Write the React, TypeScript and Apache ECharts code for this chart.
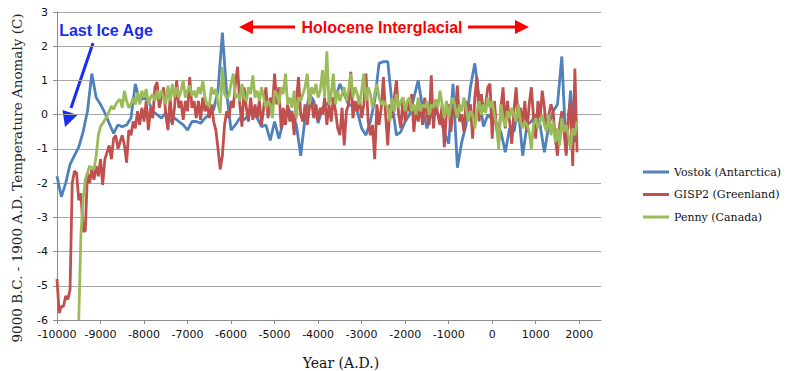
import React, { useEffect, useRef } from 'react';
import * as echarts from 'echarts';

// Tick labels of the year axis
const xTickValues = [-10000, -9000, -8000, -7000, -6000, -5000, -4000, -3000, -2000, -1000, 0, 1000, 2000];

const seriesNames = ['Vostok (Antarctica)', 'GISP2 (Greenland)', 'Penny (Canada)'];
const seriesColors = ['#4f81bd', '#c0504d', '#9bbb59'];

// Vostok (Antarctica): one value every 100 years from -10000
const vostokStart = -10000;
const vostokStep = 100;
const vostokValues = [
  -1.8, -2.4, -2.0, -1.45, -1.2, -0.95, -0.5, 0.1, 1.2, 0.5,
  0.3, 0.05, -0.25, -0.55, -0.3, -0.35, -0.3, -0.1, 0.9, 0.4,
  0.5, 0.4, 0.1, 0.0, -0.1, 0.05, -0.2, -0.1, -0.2, -0.3,
  -0.45, -0.2, -0.2, -0.25, -0.1, 0.0, 0.15, 0.7, 2.4, 0.6,
  -0.45, -0.3, -0.1, -0.15, 0.0, 0.05, -0.1, -0.35, -0.3, -0.75,
  -0.2, -0.7, -0.2, 0.2, 0.0, -0.3, -1.2, -0.1, 0.6, 0.4,
  -0.25, 0.2, 0.3, 0.45, 0.5, 0.9, 0.6, 0.3, 0.25, 0.1,
  -0.4, -0.6, -0.2, 0.4, 1.5, 1.55, 1.55, 0.3, -0.6, -0.5,
  -0.2, 0.0, 0.5, 1.0, 0.2, -0.4, 0.0, 0.15, -0.1, -0.5,
  -0.85, 0.9, -1.55, -0.8, -0.3, 0.8, 1.5, 0.5, -0.35, 0.0,
  -0.15, -0.25, -0.5, -1.1, -0.4, -0.5, 0.2, -1.2, -0.3, -0.2,
  0.0, -0.3, -1.1, -0.3, 0.1, 0.3, 1.7, -1.1, 0.7, -0.8,
];

// GISP2 (Greenland): one value every 50 years from -10000
const gispStart = -10000;
const gispStep = 50;
const gispValues = [
  -4.8, -5.8, -5.6, -5.6, -5.3, -5.4, -5.1, -2.0, -1.65, -1.7,
  -2.5, -2.3, -3.4, -3.4, -1.7, -2.0, -1.6, -1.9, -1.5, -1.8,
  -1.3, -2.05, -1.3, -1.1, -0.9, -1.3, -0.7, -0.6, -1.0, -0.8,
  -0.6, -0.9, -1.4, -0.45, -0.6, -0.2, -0.4, 0.1, -0.3, 0.2,
  -0.2, 0.4, -0.45, 0.2, -0.1, 0.8, 0.95, 0.2, 0.5, 0.8,
  0.0, -0.45, 0.5, -0.3, 0.2, 1.0, 0.2, 0.4, -0.15, 0.4,
  0.1, 1.1, 0.2, 0.4, -0.1, 0.4, -0.15, 0.5, 0.1, 0.3,
  -0.1, 0.3, -0.2, -0.45, -1.0, -1.6, -1.2, -0.3, 0.1, -0.1,
  0.4, 0.2, 0.9, 1.4, 0.3, -0.35, 0.8, 0.2, -0.2, 0.5,
  -0.15, 0.3, -0.1, 0.4, -0.3, 0.2, 0.8, -0.1, 0.5, 0.2,
  1.2, 0.3, 0.8, -0.4, 0.2, -0.3, 0.3, -0.2, 0.1, -0.6,
  0.4, 1.1, 0.0, -0.2, 0.3, -0.3, 0.2, 0.4, -0.1, 0.3,
  -0.2, 0.2, 0.0, 0.5, -0.3, 0.3, -0.2, 0.5, 0.1, -0.4,
  -0.6, 0.2, -0.9, 0.1, 0.3, 1.25, -0.1, 0.4, 0.1, 0.5,
  -0.1, 0.3, 1.2, -0.2, -0.6, -0.3, -1.3, 0.3, -0.3, 0.2,
  1.1, 0.0, -0.9, 0.3, -0.1, 0.5, 1.0, 0.0, -0.4, 0.5,
  -0.2, 0.4, 0.1, 0.6, -0.5, 0.2, -0.2, 0.3, -0.3, 0.5,
  0.0, -0.3, 1.15, -0.4, 0.4, 0.0, -0.3, 0.3, -0.95, 0.1,
  0.3, -0.5, 0.2, 0.0, 0.85, -0.2, 0.0, -0.5, 0.4, 0.1,
  0.3, -0.7, 0.5, 1.1, -0.2, 0.6, 0.1, 0.3, 0.8, 0.9,
  -0.7, 0.4, -0.4, -0.75, 0.2, 0.8, -0.4, 0.4, -0.2, -0.85,
  0.1, 0.8, -0.2, 0.2, -0.3, 0.4, -0.5, 0.3, 0.8, -0.1,
  -0.7, 0.4, -0.1, 0.7, 0.2, -0.5, 0.0, 0.3, 0.1, -0.7,
  -1.2, -0.3, 0.1, -0.5, -1.2, 0.0, 0.4, -1.5, 1.35, -1.1,
];

// Penny (Canada): one value every 50 years from -9500
const pennyStart = -9500;
const pennyStep = 50;
const pennyValues = [
  -6.0, -3.5, -2.5, -1.9, -1.7, -1.5, -1.55, -1.6, -1.2, -0.6,
  -0.35, -0.25, -0.15, -0.05, 0.1, 0.25, 0.15, 0.3, 0.4, 0.45,
  0.2, 0.7, 0.4, 0.2, 0.3, 0.5, 0.3, 0.65, 0.3, 0.7,
  0.5, 0.75, 0.3, 0.5, 0.6, 0.4, 0.7, 0.45, 0.7, 0.5,
  0.3, 0.85, 0.4, 0.9, 0.5, 0.8, 0.5, 0.7, 1.0, 0.5,
  0.7, 0.85, 0.55, 0.7, 0.5, 0.8, 0.6, 1.0, 0.5, 0.3,
  0.25, 0.8, 0.6, 0.75, 0.3, 0.05, 1.4, 0.6, 0.5, 0.55,
  0.9, 1.2, 0.5, 0.6, 0.4, 0.9, 0.5, 0.4, 0.8, 0.6,
  1.15, 0.5, 0.7, 0.4, 0.8, 0.5, 0.2, 0.4, 0.3, -0.1,
  0.7, 0.6, 0.3, 0.8, 0.6, 1.2, 0.3, 0.5, 0.2, 0.7,
  -0.1, 0.5, 0.4, 0.6, 0.8, 1.2, 0.3, 0.8, 0.6, 0.9,
  0.5, 0.7, 1.3, 0.5, 1.85, 0.3, 0.6, 1.2, 0.3, 0.7,
  0.4, 0.6, 0.8, 0.4, 0.7, 1.2, 0.5, 0.8, 0.6, 0.3,
  0.7, 1.2, 0.4, 0.8, 0.6, 0.2, 0.6, 0.9, 0.5, 0.3,
  0.4, 0.3, 0.2, -0.2, 0.5, 0.1, 0.6, 0.2, 0.4, 0.5,
  0.1, 0.4, 0.5, 0.1, 0.3, 0.0, 0.5, 0.1, 0.3, 0.2,
  0.4, 0.0, 0.3, 0.2, 0.45, 0.2, 0.7, 0.3, -0.1, 0.4,
  -0.1, 0.3, 0.5, 0.2, -0.1, 0.3, 0.1, 0.5, 0.2, -0.2,
  0.1, 0.0, -0.4, 0.1, 0.4, 0.0, 0.3, 0.05, 0.5, 0.2,
  0.4, 0.0, -0.3, -1.0, 0.3, -0.1, -0.35, 0.1, -0.1, 0.2,
  0.0, -0.2, 0.3, -0.2, -0.4, -0.2, -0.3, -0.5, -1.0, -0.3,
  -0.1, -0.4, -0.2, 0.0, -0.3, -0.5, 0.0, -0.6, -0.2, -0.8,
  -0.4, -0.9, -0.1, -0.5, -0.3, -0.6, -1.0, -0.4, -0.6, -0.2,
];

const toPairs = (start: number, step: number, vals: number[]) =>
  vals.map((v, i) => [start + i * step, v]);

const RED = '#ff0000';
const BLUE = '#1a2cf5';

export default function App() {
  const ref = useRef<HTMLDivElement>(null);
  useEffect(() => {
    if (!ref.current) return;
    const chart = echarts.init(ref.current, undefined, { renderer: 'svg' });
    const axisGrey = '#8c8c8c';
    const labelFont = { fontFamily: '"DejaVu Sans", Verdana, sans-serif', fontSize: 11, color: '#111111' };
    const lineSeries = (idx: number, data: number[][]) => ({
      name: seriesNames[idx],
      type: 'line',
      data,
      showSymbol: false,
      symbol: 'none',
      lineStyle: { width: 2.8, color: seriesColors[idx] },
      itemStyle: { color: seriesColors[idx] },
      clip: true,
      z: 2 + idx,
    });
    chart.setOption({
      animation: false,
      backgroundColor: '#ffffff',
      grid: { left: 57, right: 192, top: 12, bottom: 51, containLabel: false },
      xAxis: {
        type: 'value',
        min: -10000,
        max: 2500,
        interval: 1000,
        axisLine: { show: true, onZero: false, lineStyle: { color: axisGrey, width: 1 } },
        axisTick: { show: true, length: 4, lineStyle: { color: axisGrey }, customValues: xTickValues },
        axisLabel: {
          ...labelFont,
          margin: 9,
          customValues: xTickValues,
          formatter: (v: number) => (v % 1000 === 0 && v <= 2000 ? String(v) : ''),
        },
        splitLine: { show: false },
      },
      yAxis: {
        type: 'value',
        min: -6,
        max: 3,
        interval: 1,
        axisLine: { show: true, onZero: false, lineStyle: { color: axisGrey, width: 1 } },
        axisTick: { show: true, length: 4, lineStyle: { color: axisGrey } },
        axisLabel: { ...labelFont, margin: 9 },
        splitLine: { show: true, lineStyle: { color: '#a6a6a6', width: 1 } },
      },
      legend: {
        orient: 'vertical',
        left: 638,
        top: 160,
        itemWidth: 26,
        itemHeight: 3,
        itemGap: 8.5,
        icon: 'rect',
        data: seriesNames,
        textStyle: { fontFamily: '"DejaVu Serif", serif', fontSize: 11, color: '#111111', lineHeight: 14 },
      },
      graphic: [
        {
          type: 'text',
          x: 17,
          y: 178,
          rotation: Math.PI / 2,
          style: {
            text: '9000 B.C. - 1900 A.D. Temperature Anomaly (C)',
            font: '13.5px "DejaVu Serif", serif',
            fill: '#262626',
            align: 'center',
            verticalAlign: 'middle',
          },
        },
        {
          type: 'text',
          x: 341,
          y: 363,
          style: {
            text: 'Year (A.D.)',
            font: '14px "DejaVu Serif", serif',
            fill: '#111111',
            align: 'center',
            verticalAlign: 'middle',
          },
        },
        {
          type: 'text',
          x: 106,
          y: 30,
          style: {
            text: 'Last Ice Age',
            font: 'bold 16px "Liberation Sans", Arial, sans-serif',
            fill: BLUE,
            align: 'center',
            verticalAlign: 'middle',
          },
        },
        {
          type: 'text',
          x: 382,
          y: 27.5,
          style: {
            text: 'Holocene Interglacial',
            font: 'bold 16px "Liberation Sans", Arial, sans-serif',
            fill: RED,
            align: 'center',
            verticalAlign: 'middle',
          },
        },
        { type: 'line', shape: { x1: 295, y1: 27, x2: 250, y2: 27 }, style: { stroke: RED, lineWidth: 3 } },
        { type: 'polygon', shape: { points: [[239, 27], [253, 20], [253, 34]] }, style: { fill: RED } },
        { type: 'line', shape: { x1: 468, y1: 27, x2: 517, y2: 27 }, style: { stroke: RED, lineWidth: 3 } },
        { type: 'polygon', shape: { points: [[529, 27], [515, 20], [515, 34]] }, style: { fill: RED } },
        { type: 'line', shape: { x1: 93, y1: 43, x2: 71, y2: 108 }, style: { stroke: BLUE, lineWidth: 3 } },
        { type: 'polygon', shape: { points: [[65, 127], [77.5, 115], [62.5, 110]] }, style: { fill: BLUE } },
      ],
      series: [
        lineSeries(0, toPairs(vostokStart, vostokStep, vostokValues)),
        lineSeries(1, toPairs(gispStart, gispStep, gispValues)),
        lineSeries(2, toPairs(pennyStart, pennyStep, pennyValues)),
      ],
    });
    return () => chart.dispose();
  }, []);
  return <div ref={ref} style={{ position: 'fixed', left: 0, top: 0, width: 793, height: 371, background: '#fff' }} />;
}
